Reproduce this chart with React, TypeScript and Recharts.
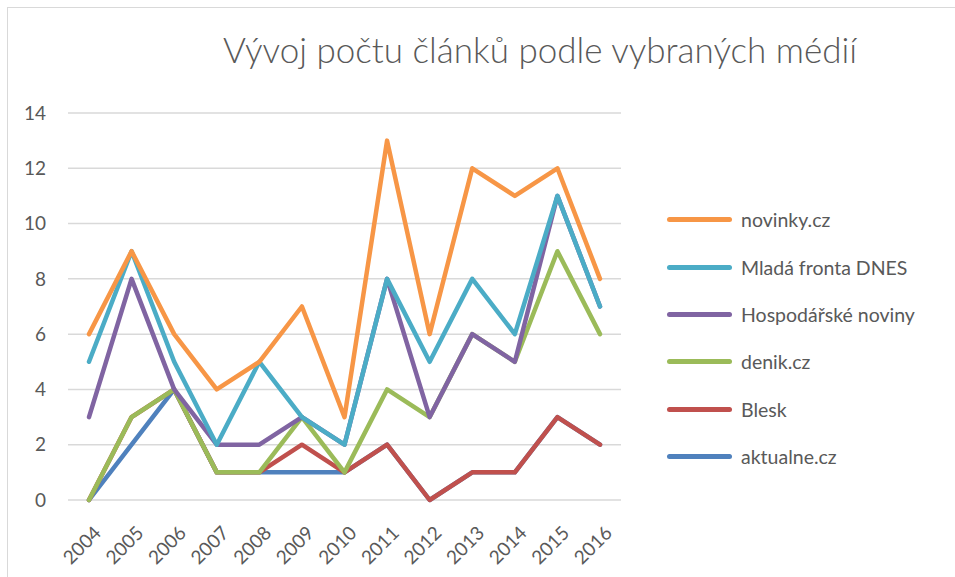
import React from 'react';
import { LineChart, Line, XAxis, YAxis, CartesianGrid } from 'recharts';

const years = ['2004','2005','2006','2007','2008','2009','2010','2011','2012','2013','2014','2015','2016'];
const novinky = [6, 9, 6, 4, 5, 7, 3, 13, 6, 12, 11, 12, 8];
const mfDnes = [5, 9, 5, 2, 5, 3, 2, 8, 5, 8, 6, 11, 7];
const hn = [3, 8, 4, 2, 2, 3, 2, 8, 3, 6, 5, 11, 7];
const denik = [0, 3, 4, 1, 1, 3, 1, 4, 3, 6, 5, 9, 6];
const blesk = [0, 3, 4, 1, 1, 2, 1, 2, 0, 1, 1, 3, 2];
const aktualne = [0, 2, 4, 1, 1, 1, 1, 2, 0, 1, 1, 3, 2];
const yTicks = [0, 2, 4, 6, 8, 10, 12, 14];

const series = [
  { key: 'novinky', name: 'novinky.cz', color: '#F79646', values: novinky },
  { key: 'mf', name: 'Mladá fronta DNES', color: '#4BACC6', values: mfDnes },
  { key: 'hn', name: 'Hospodářské noviny', color: '#8064A2', values: hn },
  { key: 'denik', name: 'denik.cz', color: '#9BBB59', values: denik },
  { key: 'blesk', name: 'Blesk', color: '#C0504D', values: blesk },
  { key: 'aktualne', name: 'aktualne.cz', color: '#4F81BD', values: aktualne },
];

const data = years.map((y, i) => {
  const row: any = { year: y };
  series.forEach((s) => { row[s.key] = s.values[i]; });
  return row;
});

const FONT = 'Lato, "Open Sans", sans-serif';

const XTick = (props: any) => {
  const { x, y, payload } = props;
  return (
    <g transform={`translate(${x + 9},${y + 22})`}>
      <text x={0} y={0} dy={6} textAnchor="end" transform="rotate(-45)" fill="#595959" fontSize={19} fontFamily={FONT}>
        {payload.value}
      </text>
    </g>
  );
};

export default function App() {
  return (
    <div style={{ position: 'absolute', left: 0, top: 0, width: 955, height: 577, background: '#fff', overflow: 'hidden' }}>
      <div style={{ position: 'absolute', left: 7, top: 7, width: 1000, height: 1000, border: '1px solid #d9d9d9' }} />
      <div style={{ position: 'absolute', left: 0, top: 28, width: 1080, textAlign: 'center', fontFamily: FONT, fontWeight: 300, fontSize: 35, color: '#595959' }}>
        Vývoj počtu článků podle vybraných médií
      </div>
      <div style={{ position: 'absolute', left: 0, top: 0 }}>
        <LineChart width={955} height={577} data={data} margin={{ top: 113, right: 334, bottom: 0, left: 0 }}>
          <CartesianGrid vertical={false} stroke="#d9d9d9" strokeWidth={1.5} />
          <XAxis dataKey="year" height={77} axisLine={false} tickLine={false} tick={<XTick />} padding={{ left: 21, right: 21 }} interval={0} />
          <YAxis width={68} domain={[0, 14]} ticks={yTicks} axisLine={false} tickLine={false} tickSize={0} tickMargin={22}
            tick={{ fill: '#595959', fontSize: 19, fontFamily: FONT }} />
          {[...series].reverse().map((s) => (
            <Line key={s.key} dataKey={s.key} name={s.name} stroke={s.color} strokeWidth={4.5} dot={false}
              strokeLinecap="round" strokeLinejoin="round" isAnimationActive={false} />
          ))}
        </LineChart>
      </div>
      <div style={{ position: 'absolute', left: 667, top: 196, fontFamily: FONT }}>
        {series.map((s) => (
          <div key={s.key} style={{ display: 'flex', alignItems: 'center', height: 47.4 }}>
            <div style={{ width: 65, height: 5, borderRadius: 3, background: s.color, marginRight: 9 }} />
            <span style={{ fontSize: 19.5, color: '#595959' }}>{s.name}</span>
          </div>
        ))}
      </div>
    </div>
  );
}
